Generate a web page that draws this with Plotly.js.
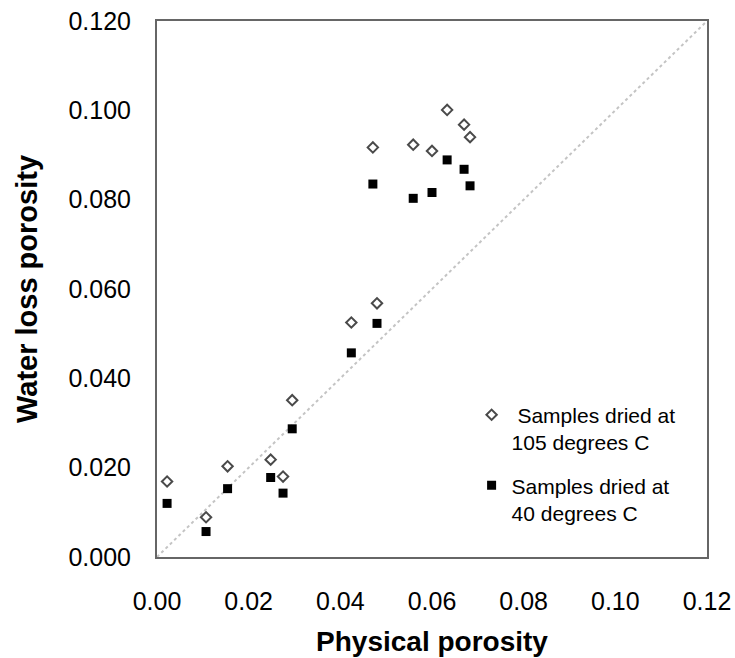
<!DOCTYPE html>
<html>
<head>
<meta charset="utf-8">
<script src="https://cdn.plot.ly/plotly-3.0.1.min.js"></script>
<style>html,body{margin:0;padding:0;background:#fff;}#chart{width:735px;height:658px;}</style>
</head>
<body>
<div id="chart"></div>
<script>
// Physical porosity (x) for each sample
const physical = [0.0022, 0.0107, 0.0154, 0.0248, 0.0275, 0.0295, 0.0424, 0.0480, 0.0471, 0.0559, 0.0600, 0.0633, 0.0670, 0.0683];
// Water loss porosity, samples dried at 105 degrees C
const water105 = [0.0169, 0.0089, 0.0203, 0.0218, 0.0180, 0.0351, 0.0525, 0.0568, 0.0917, 0.0923, 0.0909, 0.1001, 0.0968, 0.0940];
// Water loss porosity, samples dried at 40 degrees C
const water40 = [0.0120, 0.0057, 0.0153, 0.0178, 0.0143, 0.0287, 0.0457, 0.0523, 0.0835, 0.0803, 0.0816, 0.0889, 0.0868, 0.0831];
// 1:1 reference line
const refLine = [0, 0.12];
const seriesNames = [" Samples dried at<br>105 degrees C", "Samples dried at<br>40 degrees C"];

const traces = [
  {x: refLine, y: refLine, mode: 'lines', type: 'scatter', showlegend: false, hoverinfo: 'skip',
   line: {color: '#c4c4c4', width: 2, dash: 'dot'}},
  {x: physical, y: water105, mode: 'markers', type: 'scatter', name: seriesNames[0], legendgroup: 'a',
   marker: {symbol: 'diamond-open', size: 8, color: '#4a4a4a', line: {width: 2, color: '#4a4a4a'}}},
  {x: physical, y: water40, mode: 'markers', type: 'scatter', name: seriesNames[1], legendgroup: 'b',
   marker: {symbol: 'square', size: 9, color: '#000000'}}
];

const layout = {
  width: 735, height: 658,
  margin: {l: 157, r: 28, t: 21, b: 101},
  paper_bgcolor: '#ffffff', plot_bgcolor: '#ffffff',
  font: {family: 'Liberation Sans, Arial, sans-serif', color: '#000'},
  showlegend: true,
  legend: {x: 0.572, y: 0.303, xanchor: 'left', yanchor: 'top', bgcolor: 'rgba(0,0,0,0)', valign: 'top',
           font: {size: 21, color: '#000'}, tracegroupgap: 13, itemwidth: 30},
  xaxis: {range: [0, 0.12], dtick: 0.02, tickformat: '.2f', showgrid: false, zeroline: false,
          showline: true, mirror: true, linecolor: '#666666', linewidth: 2, ticks: '',
          ticklabelstandoff: 21, tickfont: {size: 25},
          title: {text: '<b>Physical porosity</b>', font: {size: 28}, standoff: 17}},
  yaxis: {range: [0, 0.12], dtick: 0.02, tickformat: '.3f', showgrid: false, zeroline: false,
          showline: true, mirror: true, linecolor: '#666666', linewidth: 2, ticks: '',
          ticklabelstandoff: 19, tickfont: {size: 25},
          title: {text: '<b>Water loss porosity</b>', font: {size: 29}, standoff: 22}}
};

Plotly.newPlot('chart', traces, layout, {displayModeBar: false, staticPlot: true});
</script>
</body>
</html>
